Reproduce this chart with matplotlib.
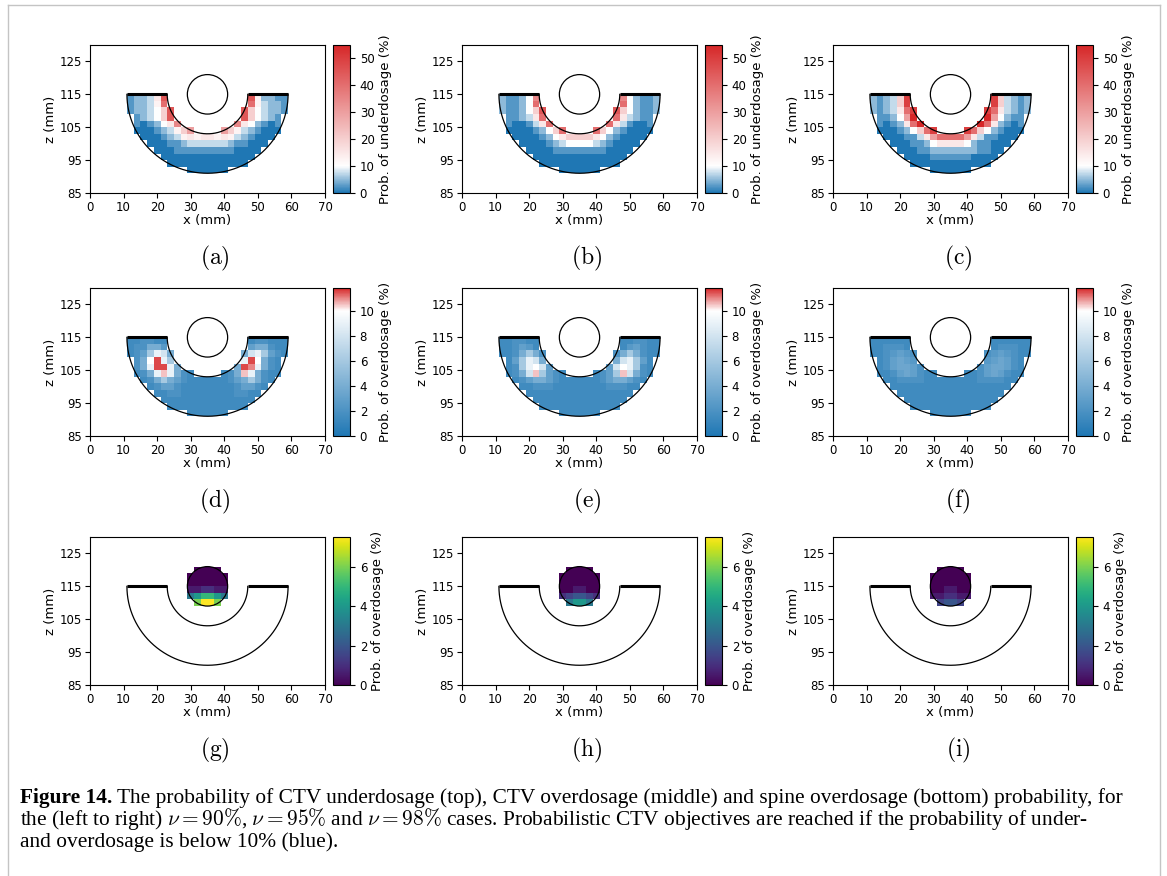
import numpy as np
import matplotlib.pyplot as plt
from matplotlib.colors import LinearSegmentedColormap, Normalize
from matplotlib.patches import Circle
from matplotlib.lines import Line2D

plt.rcParams['mathtext.fontset'] = 'cm'
plt.rcParams['font.family'] = 'DejaVu Sans'

# probability maps on the 2 mm dose grid, one string per grid row (top row first);
# '.' is outside the structure, other characters are base-36 multiples of the step
under_step = 2.5
under_90 = ["12236i............i52211",
            "12235g............g53221",
            "122348i..........i843221",
            ".12348i..........i84321.",
            ".101246e........e642101.",
            ".00012358c....c85321000.",
            "..00012356566565321000..",
            "...000112333333211000...",
            "....0001111111110000....",
            ".....00000000000000.....",
            "......000000000000......",
            ".........000000........."]
under_95 = ["21124e............e42112",
            "21124g............g42112",
            "211248i..........i842112",
            ".11236g..........g63211.",
            ".100136g........g631001.",
            ".00001248g....g84210000.",
            "..00001246888864210000..",
            "...000012344443210000...",
            "....0000111111110000....",
            ".....00000000000000.....",
            "......000000000000......",
            ".........000000........."]
under_98 = ["21238k............k83212",
            "21238k............k83212",
            "21236gk..........kg63212",
            ".1124cm..........mc4211.",
            ".10126gm........mg62101.",
            ".0001248gk....kg8421000.",
            "..0001136cggggc6311000..",
            "...000112466664211000...",
            "....0001122222221100....",
            ".....00001111110000.....",
            "......000000000000......",
            ".........000000........."]

over_step = 0.5
over_90 = ["334433............344333",
           "344885............688433",
           "346cig8..........8gic643",
           ".48knic..........ink843.",
           ".48inni8........8nmi843.",
           ".348ili843....348li8433.",
           "..348c864333333468c843..",
           "...346643333333346643...",
           "....3344333333334433....",
           ".....33333333333333.....",
           "......333333333333......",
           ".........333333........."]
over_95 = ["334433............334433",
           "334653............356433",
           "3348c84..........48c8433",
           ".36cig8..........8gic63.",
           ".34cikg6........6gkic43.",
           ".348glc643....346clg843.",
           "..34688643333334688643..",
           "...334443333333344433...",
           "....3333333333333333....",
           ".....33333333333333.....",
           "......333333333333......",
           ".........333333........."]
over_98 = ["333333............333333",
           "334443............344433",
           "3345654..........4565433",
           ".346765..........567643.",
           ".3467764........4677643.",
           ".334676433....334676433.",
           "..33444433333333444433..",
           "...333333333333333333...",
           "....3333333333333333....",
           ".....33333333333333.....",
           "......333333333333......",
           ".........333333........."]

spine_step = 0.5
spine_90 = [".0000.", "000000", "000000", "112211", "68aa86", ".cffc."]
spine_95 = [".0000.", "000000", "000000", "001100", "234432", ".6886."]
spine_98 = [".0000.", "000000", "000000", "001100", "112211", ".3443."]

row_maps = [[under_90, under_95, under_98],
            [over_90, over_95, over_98],
            [spine_90, spine_95, spine_98]]
row_steps = [under_step, over_step, spine_step]
row_vmax = [55, 11.8, 7.5]
row_ticks = [range(0, 51, 10), range(0, 11, 2), range(0, 7, 2)]
row_labels = ['Prob. of underdosage (%)', 'Prob. of overdosage (%)', 'Prob. of overdosage (%)']
letters = [['a', 'b', 'c'], ['d', 'e', 'f'], ['g', 'h', 'i']]

# dose grid cell edges (mm)
ctv_x = np.arange(11, 60, 2)
ctv_z = np.arange(91, 116, 2)
spine_x = np.arange(29, 42, 2)
spine_z = np.arange(109, 122, 2)


def decode(rows, step):
    vals = [[np.nan if c == '.' else int(c, 36) * step for c in r] for r in rows]
    return np.ma.masked_invalid(np.array(vals)[::-1])


def blue_white_red(vmax):
    return LinearSegmentedColormap.from_list(
        'bwr10', [(0, '#1f77b4'), (10 / vmax, 'white'), (1, '#d62728')])


def outline(ax):
    t = np.linspace(np.pi, 2 * np.pi, 300)
    for r in (24, 12):
        ax.plot(35 + r * np.cos(t), 115 + r * np.sin(t), color='k', lw=0.9)
    ax.plot([11, 23], [115, 115], color='k', lw=2.2, solid_capstyle='butt')
    ax.plot([47, 59], [115, 115], color='k', lw=2.2, solid_capstyle='butt')
    ax.add_patch(Circle((35, 115), 6, fill=False, ec='k', lw=0.9))


W, H = 1167, 876
fig = plt.figure(figsize=(W / 100, H / 100), dpi=100)


def px_axes(left, top, w, h):
    return fig.add_axes([left / W, 1 - (top + h) / H, w / W, h / H])


col_left = [90, 462, 833]
row_top = [45, 288, 537]
ax_w, ax_h = 235, 148

for r in range(3):
    norm = Normalize(0, row_vmax[r])
    cmap = plt.get_cmap('viridis') if r == 2 else blue_white_red(row_vmax[r])
    for c in range(3):
        ax = px_axes(col_left[c], row_top[r], ax_w, ax_h)
        data = decode(row_maps[r][c], row_steps[r])
        if r == 2:
            mesh = ax.pcolormesh(spine_x, spine_z, data, cmap=cmap, norm=norm)
        else:
            mesh = ax.pcolormesh(ctv_x, ctv_z, data, cmap=cmap, norm=norm)
        outline(ax)
        ax.set_xlim(0, 70)
        ax.set_ylim(85, 130)
        ax.set_xticks(range(0, 71, 10))
        ax.set_yticks(range(85, 126, 10))
        ax.tick_params(labelsize=8.5, length=3.5, width=0.8, pad=2.5)
        ax.set_xlabel('x (mm)', fontsize=9.5, labelpad=0)
        ax.set_ylabel('z (mm)', fontsize=9.5, labelpad=2)

        cax = px_axes(col_left[c] + ax_w + 8, row_top[r], 17, ax_h)
        cb = fig.colorbar(mesh, cax=cax)
        cb.set_ticks(list(row_ticks[r]))
        cb.ax.tick_params(labelsize=8.5, length=3.5, width=0.8)
        cb.outline.set_linewidth(0.8)
        cb.set_label(row_labels[r], fontsize=9.5, labelpad=3)

        fig.text((col_left[c] + 125) / W, 1 - (row_top[r] + 213) / H,
                 r'$\mathrm{(%s)}$' % letters[r][c], fontsize=17,
                 ha='center', va='center')

# page frame
frame = dict(transform=fig.transFigure, color='#c4c4c4', lw=1)
fig.add_artist(Line2D([8 / W, 8 / W], [0, 1 - 5 / H], **frame))
fig.add_artist(Line2D([8 / W, 1160 / W], [1 - 5 / H, 1 - 5 / H], **frame))
fig.add_artist(Line2D([1160 / W, 1160 / W], [0, 1 - 5 / H], **frame))

# figure caption
cap = dict(family='Liberation Serif', fontsize=15.4, va='baseline')
renderer = fig.canvas.get_renderer()
head = fig.text(20 / W, 1 - 803 / H, 'Figure 14.', fontweight='bold', **cap)
hw = head.get_window_extent(renderer=renderer).width
fig.text((20 + hw + 5) / W, 1 - 803 / H,
         'The probability of CTV underdosage (top), CTV overdosage (middle) '
         'and spine overdosage (bottom) probability, for', **cap)
fig.text(20 / W, 1 - 825 / H,
         r'the (left to right) $\nu = 90\%$, $\nu = 95\%$ and $\nu = 98\%$ cases. '
         'Probabilistic CTV objectives are reached if the probability of under-', **cap)
fig.text(20 / W, 1 - 847 / H, 'and overdosage is below 10% (blue).', **cap)

fig.savefig('out.png', dpi=100)
